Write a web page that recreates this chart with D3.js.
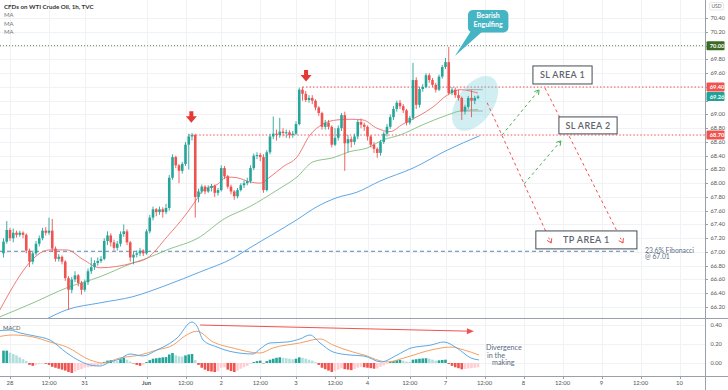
<!DOCTYPE html>
<html><head><meta charset="utf-8">
<script src="https://cdn.jsdelivr.net/npm/d3@7"></script>
<style>body{margin:0;background:#fff}svg{display:block;font-family:'Lato','Open Sans',sans-serif}</style>
</head><body><svg id="c" width="728" height="390"></svg>
<script>
// ---------------- DATA ----------------
const barOpen = [66.98,67.15,67.32,67.20,67.28,67.25,67.28,67.25,67.02,66.86,
66.98,67.12,67.20,67.31,67.28,67.31,67.05,66.90,66.93,66.86,
66.62,66.45,66.60,66.66,66.55,66.45,66.56,66.72,66.78,66.84,
66.87,66.90,67.16,67.24,67.14,67.06,67.12,67.26,67.30,67.14,
66.92,66.96,66.98,67.02,66.98,67.30,67.50,67.62,67.58,67.62,
67.58,67.64,68.08,68.38,68.26,68.18,68.28,68.56,68.68,68.70,
67.80,67.88,67.95,67.88,67.93,67.96,67.86,67.90,68.22,68.10,
67.95,67.88,67.81,67.90,67.97,68.00,68.03,68.22,68.40,68.41,
68.38,67.90,68.45,68.68,68.72,68.70,68.75,68.73,68.74,68.70,
68.72,68.86,69.36,69.30,69.21,69.24,69.20,69.10,69.02,68.82,
68.88,68.82,68.56,68.66,68.80,68.99,68.58,68.64,68.60,68.68,
68.89,68.85,68.82,68.68,68.56,68.50,68.44,68.60,68.72,68.82,
68.96,69.08,69.17,69.12,69.06,68.88,68.95,69.50,69.14,69.37,
69.40,69.57,69.50,69.43,69.36,69.55,69.69,69.76,69.31,69.36,
69.28,69.24,69.04,69.11,69.24,69.20,69.24];
const barClose = [67.15,67.32,67.20,67.28,67.25,67.28,67.25,67.02,66.86,66.98,
67.12,67.20,67.31,67.28,67.31,67.05,66.90,66.93,66.86,66.62,
66.45,66.60,66.66,66.55,66.45,66.56,66.72,66.78,66.84,66.87,
66.90,67.16,67.24,67.14,67.06,67.12,67.26,67.30,67.14,66.92,
66.96,66.98,67.02,66.98,67.30,67.50,67.62,67.58,67.62,67.58,
67.64,68.08,68.38,68.26,68.18,68.28,68.56,68.68,68.70,67.80,
67.88,67.95,67.88,67.93,67.96,67.86,67.90,68.22,68.10,67.95,
67.88,67.81,67.90,67.97,68.00,68.03,68.22,68.40,68.41,68.38,
67.90,68.45,68.68,68.72,68.70,68.75,68.73,68.74,68.70,68.72,
68.86,69.36,69.30,69.21,69.24,69.20,69.10,69.02,68.82,68.88,
68.82,68.56,68.66,68.80,68.99,68.58,68.64,68.60,68.68,68.89,
68.85,68.82,68.68,68.56,68.50,68.44,68.60,68.72,68.82,68.96,
69.08,69.17,69.12,69.06,68.88,68.95,69.50,69.14,69.37,69.40,
69.57,69.50,69.43,69.36,69.55,69.69,69.76,69.31,69.36,69.28,
69.24,69.04,69.11,69.24,69.20,69.24,69.26];
const barHigh = [67.20,67.45,67.35,67.34,67.31,67.31,67.30,67.27,67.05,67.02,
67.16,67.24,67.35,67.36,67.50,67.48,67.08,66.97,66.95,66.88,
66.65,66.64,66.72,66.68,66.58,66.60,66.76,66.92,66.88,66.92,
66.94,67.20,67.30,67.27,67.18,67.16,67.30,67.40,67.33,67.16,
67.00,67.02,67.06,67.04,67.33,67.54,67.66,67.64,67.66,67.65,
67.70,68.12,68.42,68.40,68.28,68.31,68.60,68.72,68.73,68.72,
67.92,67.98,67.97,67.97,67.99,67.98,67.93,68.26,68.25,68.12,
67.98,67.90,67.93,68.00,68.04,68.08,68.26,68.43,68.45,68.44,
68.42,68.48,68.72,68.97,68.78,68.95,68.80,68.78,68.77,68.76,
68.90,69.39,69.40,69.34,69.28,69.28,69.22,69.12,69.04,68.92,
68.92,68.84,68.80,68.84,69.02,69.04,68.70,68.68,68.72,68.92,
68.94,68.88,68.84,68.70,68.60,68.52,68.63,68.75,68.86,69.00,
69.12,69.20,69.21,69.15,69.08,68.98,69.75,69.54,69.40,69.44,
69.60,69.60,69.53,69.46,69.58,69.72,69.82,69.98,69.40,69.39,
69.36,69.26,69.14,69.27,69.36,69.27,69.28];
const barLow = [66.92,67.12,67.16,67.14,67.21,67.22,67.20,66.98,66.78,66.82,
66.95,67.08,67.17,67.24,67.25,67.00,66.86,66.86,66.82,66.58,
66.16,66.40,66.56,66.50,66.38,66.42,66.52,66.68,66.74,66.80,
66.84,66.88,67.10,67.08,67.02,67.02,67.08,67.22,67.10,66.86,
66.82,66.92,66.94,66.94,66.96,67.27,67.46,67.52,67.54,67.50,
67.55,67.60,68.05,68.22,68.00,68.14,68.25,68.20,68.62,67.50,
67.72,67.85,67.84,67.86,67.88,67.80,67.82,67.88,68.06,67.92,
67.84,67.76,67.78,67.88,67.93,67.97,68.00,68.19,68.35,68.32,
67.86,67.88,68.42,68.64,68.62,68.66,68.68,68.66,68.65,68.66,
68.70,68.84,69.20,69.18,69.17,69.15,69.06,68.98,68.78,68.78,
68.78,68.52,68.54,68.62,68.76,68.18,68.45,68.52,68.56,68.64,
68.80,68.76,68.62,68.52,68.44,68.37,68.40,68.57,68.68,68.79,
68.92,69.04,69.08,69.02,68.84,68.85,68.92,69.08,69.10,69.33,
69.38,69.46,69.40,69.32,69.34,69.52,69.66,69.28,69.28,69.24,
69.20,68.92,69.00,69.08,68.96,69.15,69.22];

// moving averages: [bar index, price]
const maRed = [[-2,66.08],[14.3,67.03],[19.5,67.03],[24.5,66.89],[29.7,66.77],[34.9,66.79],[39.8,66.84],[44.2,66.91],
 [50.3,67.22],[56.5,67.57],[59.5,67.77],[61.4,67.90],[65.7,67.98],[68.8,68.09],[71.8,68.08],[75.8,68.02],[78.9,68.00],
 [82,68.09],[86,68.24],[90.3,68.38],[94.3,68.70],[98.3,68.86],[102.6,68.92],[106.6,68.93],[110.6,68.92],[114.9,68.80],
 [118.9,68.75],[122.9,68.86],[128.2,68.99],[132.2,69.11],[136.5,69.28],[140.5,69.36],[146,69.31]];
const maGreen = [[-2,66.04],[9.1,66.26],[19.5,66.48],[29.7,66.64],[39.8,66.84],[44.2,66.91],[50.3,67.03],[60.5,67.22],
 [67.5,67.47],[75.8,67.66],[84.2,67.90],[90.3,68.09],[95.2,68.31],[101.4,68.37],[106.6,68.46],[111.8,68.51],
 [116.8,68.63],[122,68.70],[129,68.85],[136.5,68.99],[140.5,69.05],[146,69.07]];
const maBlue = [[13,66.02],[19.5,66.16],[29.7,66.26],[39.8,66.35],[50.3,66.52],[60.5,66.71],[70.6,66.91],[75.8,67.06],
 [90.3,67.47],[96.5,67.66],[102.6,67.79],[108.8,67.87],[115.8,68.03],[126,68.22],[136.5,68.48],[146.5,68.69]];

// MACD: [bar index, value]
const macdLine = [[-2,0.337],[2,0.347],[5.1,0.316],[9.7,0.284],[14.3,0.242],[19.5,0.105],[23.5,0.021],[26.6,-0.021],
 [29.7,-0.032],[32.8,0.011],[35.8,0.042],[38.9,0.095],[42.9,0.074],[47.2,0.137],[50.3,0.189],[53.4,0.263],[58,0.432],
 [59.5,0.39],[61.4,0.242],[65.7,0.168],[70.6,0.116],[76.8,0.095],[78.9,0.147],[82,0.211],[87.2,0.221],[91.2,0.253],
 [94.3,0.295],[97.4,0.211],[101.4,0.116],[106.6,0.084],[110.9,0.074],[116.2,0.011],[121.1,0.084],[125.4,0.158],
 [131.5,0.189],[135.5,0.221],[139.5,0.158],[143.8,0.053],[146.3,0.032]];
const signalLine = [[-2,0.274],[2.9,0.295],[9.1,0.274],[14.3,0.221],[19.5,0.168],[26.6,0.032],[30.6,0.0],[35.8,0.053],
 [42,0.084],[47.2,0.137],[52.2,0.189],[55.8,0.284],[59.5,0.335],[64.5,0.221],[70.6,0.158],[78.9,0.105],[82.9,0.158],
 [91.2,0.211],[97.4,0.253],[101.4,0.189],[107.5,0.116],[110.9,0.084],[118,0.011],[124.2,0.063],[131.5,0.137],
 [137.7,0.168],[141.7,0.137],[146.3,0.084]];
const macdHist = [0.13,0.13,0.11,0.095,0.08,0.06,0.04,0.02,-0.02,-0.03,
-0.02,-0.01,-0.005,-0.008,-0.02,-0.04,-0.05,-0.06,-0.07,-0.08,
-0.095,-0.105,-0.09,-0.075,-0.065,-0.05,-0.045,-0.04,-0.035,-0.03,
-0.02,0.012,0.025,0.03,0.025,0.02,0.04,0.055,0.035,0.015,
-0.005,-0.02,-0.03,-0.02,0.01,0.03,0.045,0.05,0.055,0.06,
0.062,0.09,0.105,0.08,0.07,0.068,0.08,0.09,0.095,0.03,
-0.02,-0.05,-0.07,-0.085,-0.09,-0.095,-0.085,-0.05,-0.045,-0.07,
-0.085,-0.095,-0.08,-0.06,-0.045,-0.03,-0.01,0.01,0.02,0.025,
-0.005,0.02,0.035,0.045,0.055,0.06,0.055,0.05,0.045,0.04,
0.045,0.06,0.055,0.045,0.035,0.025,0.01,-0.02,-0.05,-0.065,
-0.08,-0.095,-0.085,-0.07,-0.055,-0.065,-0.07,-0.075,-0.065,-0.05,
-0.04,-0.045,-0.05,-0.055,-0.06,-0.058,-0.04,-0.025,-0.01,0.01,
0.02,0.03,0.032,0.025,0.015,0.012,0.035,0.04,0.045,0.048,
0.05,0.045,0.035,0.025,0.028,0.032,0.035,-0.01,-0.03,-0.045,
-0.055,-0.067,-0.062,-0.058,-0.055,-0.05,-0.045];

const timeTickLabels = ["28","12:00","31","Jun","12:00","2","12:00","3","12:00","4","12:00","7","12:00","8","12:00","9","12:00","10"];
const timeTickIndex  = [2,14,25,44,56,67,79,90,102,112,125,136,148,160,172,184,196,208];
const priceTicks = [66.2,66.4,66.6,66.8,67.0,67.2,67.4,67.6,67.8,68.0,68.2,68.4,68.6,68.8,69.0,69.2,69.4,69.6,69.8,70.0,70.2,70.4];
const macdTicks = [0.0,0.2,0.4];
const resistance70 = 70.00, slLevel1 = 69.40, slLevel2 = 68.70, lastPrice = 69.26, fibLevel = 67.01;

// ---------------- LAYOUT ----------------
const svg = d3.select("#c");
const plotR = 705, mainB = 318, macdB = 376;
const x = d3.scaleLinear().domain([0,208]).range([3.5, 3.5 + 3.25*208]);
const y = d3.scaleLinear().domain([66.04,70.664]).range([mainB,0]);
const ym = d3.scaleLinear().domain([-0.137,0.474]).range([macdB,mainB]);
const UP="#26a69a", DN="#ef5350";

const defs = svg.append("defs");
defs.append("clipPath").attr("id","cm").append("rect").attr("x",0).attr("y",0).attr("width",plotR).attr("height",mainB);
defs.append("clipPath").attr("id","cd").append("rect").attr("x",0).attr("y",mainB).attr("width",plotR).attr("height",macdB-mainB);

// grid
const grid = svg.append("g").attr("stroke","#f0f2f6").attr("stroke-width",1);
timeTickIndex.forEach(i=>grid.append("line").attr("x1",Math.round(x(i))+0.5).attr("x2",Math.round(x(i))+0.5).attr("y1",0).attr("y2",macdB));
priceTicks.forEach(p=>grid.append("line").attr("x1",0).attr("x2",plotR).attr("y1",Math.round(y(p))+0.5).attr("y2",Math.round(y(p))+0.5));
macdTicks.forEach(v=>grid.append("line").attr("x1",0).attr("x2",plotR).attr("y1",Math.round(ym(v))+0.5).attr("y2",Math.round(ym(v))+0.5));

// main pane
const gm = svg.append("g").attr("clip-path","url(#cm)");

gm.append("line").attr("x1",0).attr("x2",x(195)).attr("y1",y(fibLevel)).attr("y2",y(fibLevel))
  .attr("stroke","#5b86b3").attr("stroke-width",1).attr("stroke-dasharray","4,3");
gm.append("line").attr("x1",0).attr("x2",plotR).attr("y1",y(resistance70)).attr("y2",y(resistance70))
  .attr("stroke","#6f8a5c").attr("stroke-width",1).attr("stroke-dasharray","1,2");
gm.append("line").attr("x1",x(92)).attr("x2",plotR).attr("y1",y(slLevel1)).attr("y2",y(slLevel1))
  .attr("stroke",DN).attr("stroke-width",1.1).attr("stroke-dasharray","1.5,2");
gm.append("line").attr("x1",x(57)).attr("x2",plotR).attr("y1",y(slLevel2)).attr("y2",y(slLevel2))
  .attr("stroke",DN).attr("stroke-width",1.1).attr("stroke-dasharray","1.5,2");

// ellipse
const ec = [x(145.1), y(69.16)];
gm.append("ellipse").attr("cx",0).attr("cy",0).attr("rx",31).attr("ry",18)
  .attr("transform",`translate(${ec[0]},${ec[1]}) rotate(-55)`)
  .attr("fill","#7fd0de").attr("fill-opacity",0.36);

// moving averages
const lineP = d3.line().x(d=>x(d[0])).y(d=>y(d[1])).curve(d3.curveMonotoneX);
gm.append("path").attr("d",lineP(maBlue)).attr("fill","none").attr("stroke","#5ea7e6").attr("stroke-width",1);
gm.append("path").attr("d",lineP(maGreen)).attr("fill","none").attr("stroke","#8cc58b").attr("stroke-width",1);
gm.append("path").attr("d",lineP(maRed)).attr("fill","none").attr("stroke","#f07b76").attr("stroke-width",1);

// candles
const idx = d3.range(barClose.length);
const cg = gm.append("g");
idx.forEach(i=>{
  const o=barOpen[i], c=barClose[i], col = c>=o?UP:DN, cx=x(i);
  cg.append("line").attr("x1",cx).attr("x2",cx).attr("y1",y(barHigh[i])).attr("y2",y(barLow[i])).attr("stroke",col).attr("stroke-width",0.9);
  const top=y(Math.max(o,c)), bot=y(Math.min(o,c));
  cg.append("rect").attr("x",cx-1.3).attr("width",2.6).attr("y",top).attr("height",Math.max(1,bot-top)).attr("fill",col);
});

gm.append("line").attr("x1",x(142.5)).attr("x2",x(147.5)).attr("y1",y(69.36)).attr("y2",y(69.36)).attr("stroke","#9aa0a6").attr("stroke-width",0.8);
gm.append("line").attr("x1",x(142)).attr("x2",x(147.5)).attr("y1",y(69.05)).attr("y2",y(69.05)).attr("stroke","#9aa0a6").attr("stroke-width",0.8);

// red down arrows
const downArrows = [[57.8,68.96],[93.1,69.56]];
downArrows.forEach(([i,p])=>{
  const cx=x(i), cy=y(p);
  gm.append("path").attr("d",`M${cx-2},${cy-6}h4v5h3.5l-5.5,6.5l-5.5,-6.5h3.5z`).attr("fill","#e53935");
});

function chevron(g,x1,y1,x2,y2,col){
  const a=Math.atan2(y2-y1,x2-x1), L=5;
  [a+Math.PI*0.82,a-Math.PI*0.82].forEach(b=>{
    g.append("line").attr("x1",x2).attr("y1",y2).attr("x2",x2+L*Math.cos(b)).attr("y2",y2+L*Math.sin(b)).attr("stroke",col).attr("stroke-width",1);
  });
}
const projections = [
  {from:[148.8,69.17], to:[168.5,67.13], col:"#ef5350"},
  {from:[153.4,68.70], to:[164.8,69.356], col:"#4caf50"},
  {from:[166.6,69.385], to:[190.6,67.13], col:"#ef5350"},
  {from:[160.2,67.99], to:[171.5,68.615], col:"#4caf50"}
];
projections.forEach(pr=>{
  const x1=x(pr.from[0]),y1=y(pr.from[1]),x2=x(pr.to[0]),y2=y(pr.to[1]);
  gm.append("line").attr("x1",x1).attr("y1",y1).attr("x2",x2).attr("y2",y2).attr("stroke",pr.col).attr("stroke-width",1).attr("stroke-dasharray","3,3");
  chevron(gm,x1,y1,x2,y2,pr.col);
});

const boxes = [
  {t:"SL AREA 1", i0:162.9, i1:181.1, p0:69.705, p1:69.443},
  {t:"SL AREA 2", i0:170.9, i1:188.8, p0:68.964, p1:68.717},
  {t:"TP AREA 1", i0:163.8, i1:194.9, p0:67.306, p1:67.045}
];
boxes.forEach(b=>{
  const x0=x(b.i0), x1=x(b.i1), y0=y(b.p0), y1=y(b.p1);
  svg.append("rect").attr("x",x0).attr("y",y0).attr("width",x1-x0).attr("height",y1-y0).attr("fill","#fff").attr("stroke","#454a52").attr("stroke-width",1);
  svg.append("text").attr("x",(x0+x1)/2).attr("y",(y0+y1)/2+3.2).attr("text-anchor","middle")
    .attr("font-size",9).attr("font-weight",600).attr("fill","#5d6470").attr("letter-spacing",0.4).text(b.t);
});
[projections[0],projections[2]].forEach(pr=>{
  const x1=x(pr.from[0]),y1=y(pr.from[1]),x2=x(pr.to[0]),y2=y(pr.to[1]);
  const g=svg.append("g");
  const a=Math.atan2(y2-y1,x2-x1);
  g.append("line").attr("x1",x2-6*Math.cos(a)).attr("y1",y2-6*Math.sin(a)).attr("x2",x2).attr("y2",y2).attr("stroke",pr.col).attr("stroke-dasharray","2,2");
  chevron(g,x1,y1,x2,y2,pr.col);
});

// Bearish engulfing callout
const tip=[x(138.9), y(69.85)];
svg.append("path").attr("d",`M${tip[0]},${tip[1]}L${tip[0]+16},${tip[1]-25}L${tip[0]+28},${tip[1]-25}Z`).attr("fill","#45b4c3");
svg.append("rect").attr("x",tip[0]+13).attr("y",tip[1]-46).attr("width",40.5).attr("height",22.5).attr("rx",5).attr("fill","#45b4c3");
svg.append("text").attr("x",tip[0]+33.2).attr("y",tip[1]-37.5).attr("text-anchor","middle").attr("font-size",7).attr("font-weight",700).attr("fill","#fff").text("Bearish");
svg.append("text").attr("x",tip[0]+33.2).attr("y",tip[1]-29).attr("text-anchor","middle").attr("font-size",7).attr("font-weight",700).attr("fill","#fff").text("Engulfing");

svg.append("text").attr("x",645).attr("y",y(fibLevel)+1.5).attr("font-size",6.8).attr("fill","#5b6b82").text("23.6% Fibonacci");
svg.append("text").attr("x",645).attr("y",y(fibLevel)+8).attr("font-size",6.8).attr("fill","#5b6b82").text("@ 67.01");

// MACD pane
const gd = svg.append("g").attr("clip-path","url(#cd)");
idx.forEach(i=>{
  const v=macdHist[i], pv = i>0?macdHist[i-1]:v;
  let col;
  if(v>=0) col = v>=pv ? "#26a69a" : "#b2dfdb"; else col = v<=pv ? "#ef5350" : "#ffcdd2";
  const y0=ym(0), y1=ym(v);
  gd.append("rect").attr("x",x(i)-1.3).attr("width",2.6).attr("y",Math.min(y0,y1)).attr("height",Math.max(0.5,Math.abs(y1-y0))).attr("fill",col);
});
const lineM = d3.line().x(d=>x(d[0])).y(d=>ym(d[1])).curve(d3.curveMonotoneX);
gd.append("path").attr("d",lineM(signalLine)).attr("fill","none").attr("stroke","#f3a062").attr("stroke-width",1);
gd.append("path").attr("d",lineM(macdLine)).attr("fill","none").attr("stroke","#5aa9e6").attr("stroke-width",1);
const da=[x(60.5),ym(0.40)], db=[x(143.5),ym(0.335)];
gd.append("line").attr("x1",da[0]).attr("y1",da[1]).attr("x2",db[0]).attr("y2",db[1]).attr("stroke","#ef5350").attr("stroke-width",1);
{ const a=Math.atan2(db[1]-da[1],db[0]-da[0]);
  gd.append("path").attr("d",`M${db[0]+4*Math.cos(a)},${db[1]+4*Math.sin(a)}L${db[0]-3*Math.cos(a)-3*Math.sin(a)},${db[1]-3*Math.sin(a)+3*Math.cos(a)}L${db[0]-3*Math.cos(a)+3*Math.sin(a)},${db[1]-3*Math.sin(a)-3*Math.cos(a)}Z`).attr("fill","#ef5350"); }
svg.append("text").attr("x",486).attr("y",350).attr("font-size",7.2).attr("fill","#5b6b82").text("Divergence");
svg.append("text").attr("x",487).attr("y",357.5).attr("font-size",7.2).attr("fill","#5b6b82").text("in the");
svg.append("text").attr("x",492).attr("y",365).attr("font-size",7.2).attr("fill","#5b6b82").text("making");
svg.append("text").attr("x",3).attr("y",329.5).attr("font-size",5.8).attr("fill","#555").text("MACD");

// frame lines
svg.append("line").attr("x1",0).attr("x2",728).attr("y1",mainB+0.5).attr("y2",mainB+0.5).attr("stroke","#9aa0a8");
svg.append("line").attr("x1",0).attr("x2",728).attr("y1",macdB+0.5).attr("y2",macdB+0.5).attr("stroke","#9aa0a8");
svg.append("line").attr("x1",plotR+0.5).attr("x2",plotR+0.5).attr("y1",0).attr("y2",390).attr("stroke","#9aa0a8");

// price axis labels (tick labels hidden under the coloured price tags)
const tags = [[resistance70,"#3b6b22"],[slLevel1,"#ef5350"],[lastPrice,"#22a196"],[slLevel2,"#ef5350"]];
const ax = svg.append("g").attr("font-size",5.7).attr("fill","#555");
priceTicks.forEach(p=>{
  ax.append("line").attr("x1",plotR).attr("x2",plotR+3).attr("y1",Math.round(y(p))+0.5).attr("y2",Math.round(y(p))+0.5).attr("stroke","#9aa0a8");
  const near = tags.some(([tp])=>Math.abs(y(tp)-y(p))<6.5);
  if(!near) ax.append("text").attr("x",710.5).attr("y",y(p)+2).text(p.toFixed(2));
});
macdTicks.forEach(v=>{
  ax.append("text").attr("x",710.5).attr("y",ym(v)+2).text(v.toFixed(2));
});
svg.append("rect").attr("x",709.5).attr("y",2.5).attr("width",14).attr("height",7.5).attr("rx",1.5).attr("fill","#fff").attr("stroke","#d6d9de").attr("stroke-width",0.6);
svg.append("text").attr("x",716.5).attr("y",8.2).attr("text-anchor","middle").attr("font-size",5).attr("fill","#666").text("USD");
tags.forEach(([p,col])=>{
  svg.append("rect").attr("x",706.5).attr("y",y(p)-4.5).attr("width",18).attr("height",9).attr("rx",1).attr("fill",col);
  svg.append("text").attr("x",709.8).attr("y",y(p)+2).attr("font-size",5.7).attr("font-weight",700).attr("fill","#fff").text(p.toFixed(2));
});

// time axis
const tx = svg.append("g").attr("font-size",5.9).attr("fill","#555").attr("text-anchor","middle");
timeTickLabels.forEach((t,k)=>{
  tx.append("line").attr("x1",Math.round(x(timeTickIndex[k]))+0.5).attr("x2",Math.round(x(timeTickIndex[k]))+0.5).attr("y1",macdB).attr("y2",macdB+3).attr("stroke","#9aa0a8");
  tx.append("text").attr("x",x(timeTickIndex[k])).attr("y",385).attr("font-weight",t==="Jun"?700:400).text(t);
});

// header
svg.append("text").attr("x",4).attr("y",9).attr("font-size",6.2).attr("font-weight",700).attr("fill","#333").text("CFDs on WTI Crude Oil, 1h, TVC");
["MA","MA","MA"].forEach((t,k)=>svg.append("text").attr("x",4).attr("y",17.3+k*8.2).attr("font-size",6).attr("fill","#777").text(t));
</script></body></html>
